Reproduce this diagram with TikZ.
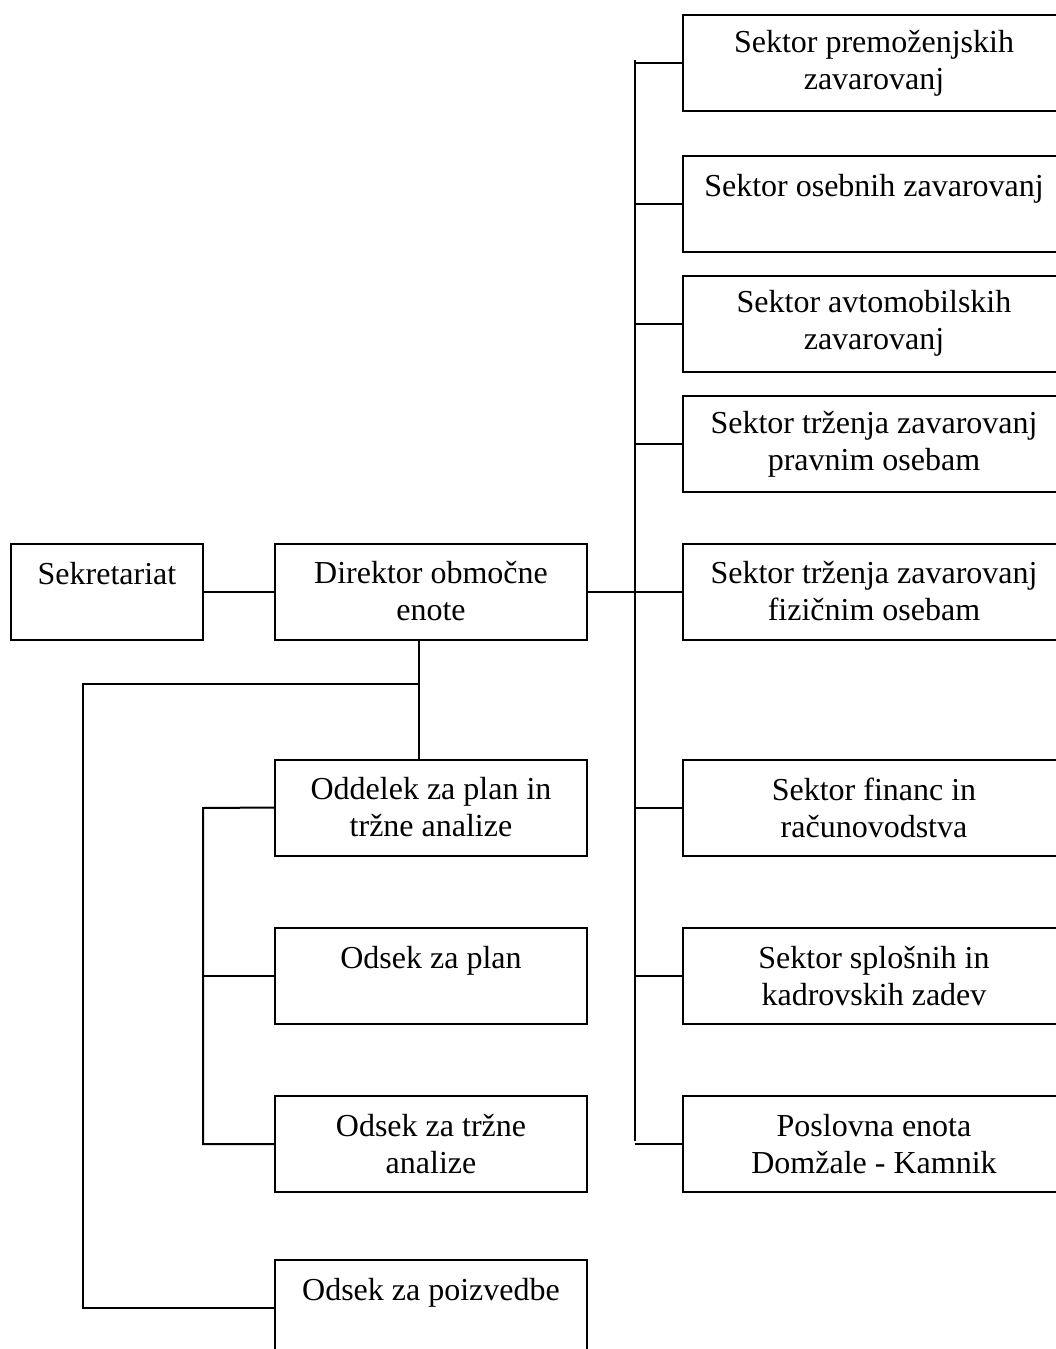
\documentclass[tikz,border=0pt]{standalone}
\usepackage{fontspec}
\setmainfont{Liberation Serif}
\begin{document}
\begin{tikzpicture}[x=1pt,y=-1pt,
  orgbox/.style={draw, line width=2pt, inner sep=0pt, align=center,
    minimum height=96pt, font=\fontsize{32}{37}\selectfont},
  rbox/.style={orgbox, minimum width=382pt},
  lbox/.style={orgbox, minimum width=312pt},
  conn/.style={line width=2pt}]
\useasboundingbox (0,0) rectangle (1056,1349);
% right column
\node[rbox] (r1) at (874,63) {Sektor premoženjskih\\zavarovanj};
\node[rbox] (r2) at (874,203.5) {Sektor osebnih zavarovanj\\\phantom{X}};
\node[rbox] (r3) at (874,323.5) {Sektor avtomobilskih\\zavarovanj};
\node[rbox] (r4) at (874,444) {Sektor trženja zavarovanj\\pravnim osebam};
\node[rbox] (r5) at (874,591.5) {Sektor trženja zavarovanj\\fizičnim osebam};
\node[rbox] (r6) at (874,807.5) {Sektor financ in\\računovodstva};
\node[rbox] (r7) at (874,976) {Sektor splošnih in\\kadrovskih zadev};
\node[rbox] (r8) at (874,1144) {Poslovna enota\\Domžale - Kamnik};
% left
\node[orgbox, minimum width=192pt] (sek) at (107,591.5) {Sekretariat\\\phantom{X}};
\node[lbox] (dir) at (431,591.5) {Direktor območne\\enote};
\node[lbox] (odd) at (431,807.5) {Oddelek za plan in\\tržne analize};
\node[lbox] (plan) at (431,976) {Odsek za plan\\\phantom{X}};
\node[lbox] (trz) at (431,1144) {Odsek za tržne\\analize};
\node[lbox] (poi) at (431,1308) {Odsek za poizvedbe\\\phantom{X}};
% coordinates
\coordinate (rtop) at (635,60);
\coordinate (rbot) at (635,1141);
\coordinate (dsplit) at (419,684);
\coordinate (lcorner) at (83,684);
\coordinate (bustop) at (203,808);
\coordinate (busbot) at (203,1144);
% connectors
\draw[conn] (sek.east) -- (dir.west);
\draw[conn] (dir.east) -- (r5.west);
\draw[conn] (rtop) -- (rbot);
\foreach \n in {r1,r2,r3,r4,r6,r7,r8}
  \draw[conn] (rtop |- \n.west) -- (\n.west);
\draw[conn] ([xshift=-12pt]dir.south) -- ([xshift=-12pt]odd.north);
\draw[conn] (dsplit) -- (lcorner) -- (lcorner |- poi.west) -- (poi.west);
\draw[conn] (odd.west) -- (bustop) -- (busbot) -- (trz.west);
\draw[conn] (bustop |- plan.west) -- (plan.west);
\end{tikzpicture}
\end{document}
